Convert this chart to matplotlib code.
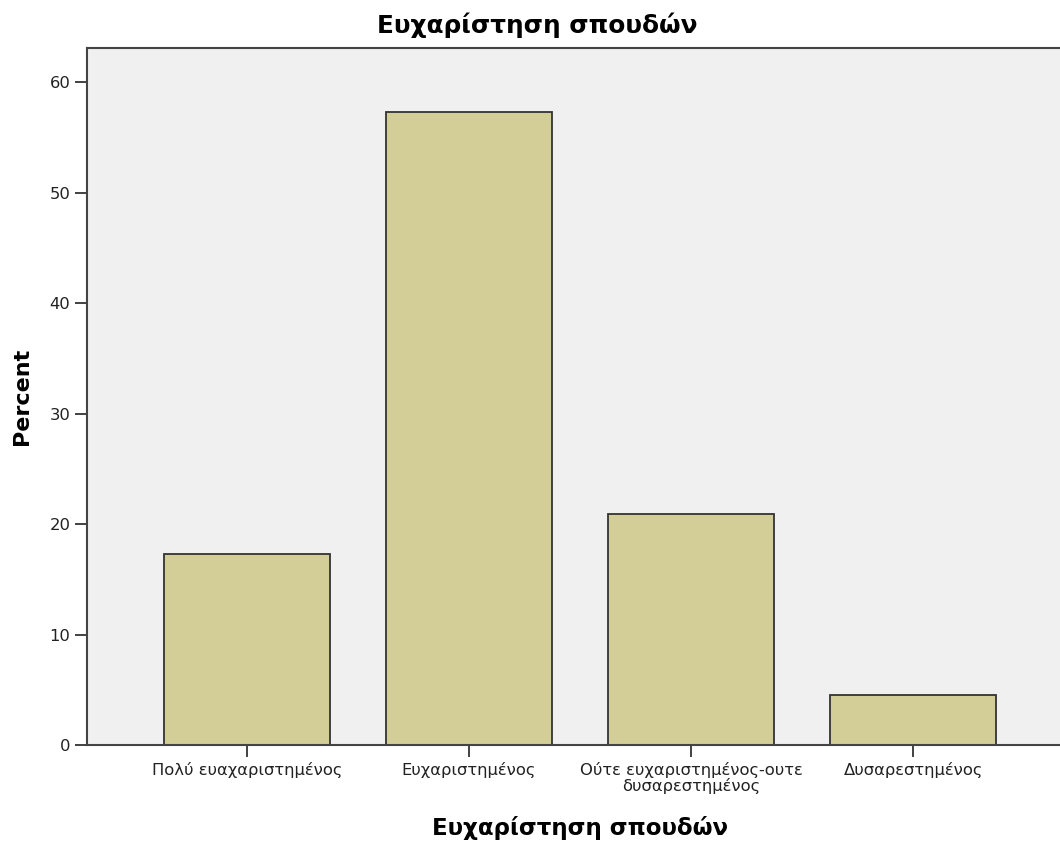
import matplotlib.pyplot as plt

# Δεδομένα
katigories = ['Πολύ ευαχαριστημένος', 'Ευχαριστημένος',
              'Ούτε ευχαριστημένος-ουτε\nδυσαρεστημένος', 'Δυσαρεστημένος']
pososta = [17.3, 57.3, 20.9, 4.5]
yticks = [0, 10, 20, 30, 40, 50, 60]

plt.rcParams['font.family'] = ['DejaVu Sans']

fig = plt.figure(figsize=(10.6, 8.42), dpi=100)
ax = fig.add_axes([87 / 1060, 97 / 842, 986 / 1060, 697 / 842])
ax.set_facecolor('#F0F0F0')

x = range(len(katigories))
ax.bar(x, pososta, width=0.75, color='#D3CE97', edgecolor='#333333', linewidth=1.3, zorder=2)

ax.set_xlim(-0.72, 3.72)
ax.set_ylim(0, 63.1)
ax.set_xticks(list(x))
ax.set_xticklabels(katigories, fontsize=11.8, linespacing=1.0)
ax.set_yticks(yticks)
ax.tick_params(axis='both', direction='out', length=8.5, width=1.3, color='#333333',
               labelsize=11.8, pad=3.5, labelcolor='#222222')

for s in ['left', 'bottom', 'top']:
    ax.spines[s].set_color('#444444')
    ax.spines[s].set_linewidth(1.5)
ax.spines['right'].set_visible(False)

ax.set_ylabel('Percent', fontsize=16, fontweight='bold', va='center')
ax.yaxis.set_label_coords(-(87 - 22) / 986, 0.5)
ax.set_xlabel('Ευχαρίστηση σπουδών', fontsize=16.5, fontweight='bold', va='center')
ax.xaxis.set_label_coords(0.5, -(828 - 745) / 697)
fig.text(537 / 1060, 1 - 33 / 842, 'Ευχαρίστηση σπουδών', fontsize=17.8,
         fontweight='bold', ha='center', va='baseline')

plt.savefig('out.png', dpi=100)
